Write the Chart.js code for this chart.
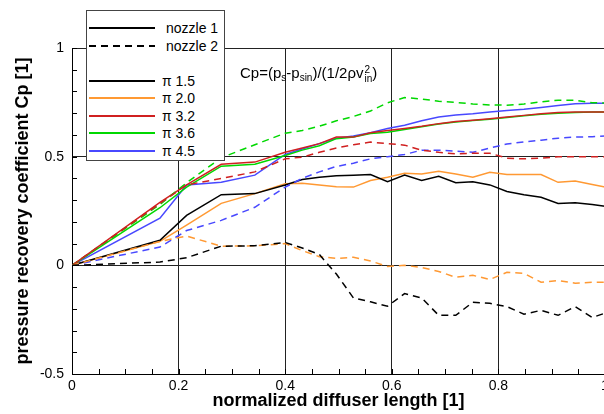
<!DOCTYPE html>
<html>
<head>
<meta charset="utf-8">
<script src="https://cdn.jsdelivr.net/npm/chart.js@4"></script>
<style>
  html, body { margin:0; padding:0; overflow:hidden; background:#fff; width:604px; height:414px; }
  #wrap { position:absolute; left:0; top:0; width:620px; height:414px; }
  #legend { position:absolute; left:86px; top:10px; width:137px; height:149px; border:1px solid #444; background:#fff;
            font-family: Arial, "Liberation Sans", sans-serif; font-size:14px; color:#000; }
  .row { position:absolute; left:0; width:137px; height:18px; }
  .row svg { position:absolute; left:2px; top:0; }
  .row span { position:absolute; top:0; line-height:18px; white-space:nowrap; }
  #formula { position:absolute; left:240px; top:64px; font-family: Arial, "Liberation Sans", sans-serif; font-size:15px; color:#000; white-space:nowrap; }
  #formula sub { font-size:10px; vertical-align:-3px; }
  .stack { display:inline-block; vertical-align:middle; line-height:9px; font-size:10px; margin-left:1px; }
  .stack span { display:block; }
</style>
</head>
<body>
<div id="wrap"><canvas id="c"></canvas></div>
<div id="legend"></div>
<div id="formula">Cp=(p<sub>s</sub>-p<sub>sin</sub>)/(1/2ρv<span class="stack"><span>2</span><span>in</span></span>)</div>
<script>
// ---- data ----
const xPos = [0, 0.165, 0.215, 0.28, 0.343, 0.40, 0.432, 0.464, 0.496, 0.528, 0.56, 0.592, 0.624, 0.656, 0.688, 0.72, 0.752, 0.784, 0.816, 0.848, 0.88, 0.912, 0.944, 0.976, 1.0];

// nozzle 1 (solid)
const pi15_n1 = [0, 0.115, 0.23, 0.325, 0.33, 0.37, 0.395, 0.405, 0.412, 0.415, 0.418, 0.385, 0.415, 0.39, 0.41, 0.38, 0.385, 0.37, 0.34, 0.325, 0.313, 0.285, 0.288, 0.28, 0.272];
const pi20_n1 = [0, 0.11, 0.185, 0.285, 0.33, 0.375, 0.378, 0.37, 0.362, 0.36, 0.39, 0.405, 0.424, 0.42, 0.433, 0.42, 0.405, 0.428, 0.418, 0.418, 0.418, 0.382, 0.388, 0.372, 0.36];
const pi32_n1 = [0, 0.29, 0.37, 0.465, 0.475, 0.52, 0.54, 0.56, 0.59, 0.59, 0.61, 0.62, 0.63, 0.64, 0.652, 0.662, 0.668, 0.675, 0.683, 0.69, 0.698, 0.703, 0.705, 0.705, 0.706];
const pi36_n1 = [0, 0.265, 0.36, 0.456, 0.465, 0.505, 0.53, 0.55, 0.583, 0.59, 0.607, 0.612, 0.625, 0.638, 0.65, 0.66, 0.666, 0.672, 0.68, 0.688, 0.695, 0.7, 0.703, 0.705, 0.705];
const pi45_n1 = [0, 0.217, 0.37, 0.382, 0.415, 0.51, 0.535, 0.56, 0.585, 0.595, 0.61, 0.63, 0.645, 0.665, 0.683, 0.692, 0.697, 0.705, 0.712, 0.718, 0.726, 0.735, 0.744, 0.746, 0.746];

// nozzle 2 (dashed)
const pi15_n2 = [0, 0.015, 0.035, 0.088, 0.09, 0.105, 0.08, 0.05, -0.04, -0.15, -0.168, -0.188, -0.13, -0.15, -0.23, -0.23, -0.17, -0.175, -0.19, -0.225, -0.207, -0.23, -0.19, -0.24, -0.22];
const pi20_n2 = [0, 0.11, 0.135, 0.088, 0.09, 0.10, 0.068, 0.04, 0.032, 0.037, 0.02, -0.005, 0.0, -0.01, -0.028, -0.055, -0.046, -0.065, -0.032, -0.037, -0.078, -0.07, -0.082, -0.078, -0.078];
const pi32_n2 = [0, 0.285, 0.37, 0.40, 0.43, 0.49, 0.498, 0.52, 0.54, 0.555, 0.567, 0.56, 0.553, 0.53, 0.52, 0.513, 0.516, 0.516, 0.493, 0.49, 0.493, 0.50, 0.50, 0.50, 0.50];
const pi36_n2 = [0, 0.28, 0.38, 0.495, 0.555, 0.608, 0.62, 0.64, 0.665, 0.685, 0.71, 0.748, 0.772, 0.765, 0.755, 0.75, 0.742, 0.738, 0.737, 0.742, 0.752, 0.76, 0.76, 0.748, 0.747];
const pi45_n2 = [0, 0.084, 0.16, 0.207, 0.267, 0.36, 0.40, 0.43, 0.455, 0.47, 0.49, 0.50, 0.51, 0.53, 0.53, 0.525, 0.52, 0.54, 0.558, 0.568, 0.576, 0.585, 0.59, 0.592, 0.595];

const piLabels = ["π 1.5", "π 2.0", "π 3.2", "π 3.6", "π 4.5"];
const nozzleLabels = ["nozzle 1", "nozzle 2"];
const xTickLabels = ["0", "0.2", "0.4", "0.6", "0.8", "1"];
const yTickLabels = ["-0.5", "0", "0.5", "1"];

// ---- styles ----
const colors = ["#000000", "#FF9933", "#D02020", "#00D800", "#4848FF"];
const dash = [7, 5];

const n1 = [pi15_n1, pi20_n1, pi32_n1, pi36_n1, pi45_n1];
const n2 = [pi15_n2, pi20_n2, pi32_n2, pi36_n2, pi45_n2];
const toPts = ys => ys.map((y, i) => ({ x: xPos[i], y }));

const datasets = [];
n2.forEach((ys, i) => datasets.push({ label: piLabels[i] + " " + nozzleLabels[1], data: toPts(ys), borderColor: colors[i], borderWidth: 1.5, borderDash: dash, pointRadius: 0, tension: 0, fill: false }));
n1.forEach((ys, i) => datasets.push({ label: piLabels[i] + " " + nozzleLabels[0], data: toPts(ys), borderColor: colors[i], borderWidth: 1.5, pointRadius: 0, tension: 0, fill: false }));

const minorTicks = {
  id: 'minorTicks',
  afterDraw(chart) {
    const { ctx, scales: { x, y } } = chart;
    ctx.save();
    ctx.strokeStyle = '#000';
    ctx.lineWidth = 1;
    ctx.beginPath();
    for (let k = -5; k <= 10; k++) {
      const py = Math.round(y.getPixelForValue(k / 10)) + 0.5;
      ctx.moveTo(x.left, py); ctx.lineTo(x.left + 5, py);
    }
    for (let k = 0; k <= 20; k++) {
      const px = Math.round(x.getPixelForValue(k / 20)) + 0.5;
      ctx.moveTo(px, y.bottom); ctx.lineTo(px, y.bottom - 5);
    }
    ctx.stroke();
    ctx.restore();
  }
};

const font = { family: 'Arial, "Liberation Sans", sans-serif', size: 14 };
const titleFont = { family: 'Arial, "Liberation Sans", sans-serif', size: 18, weight: 'bold' };
new Chart(document.getElementById('c'), {
  type: 'line',
  data: { datasets },
  plugins: [minorTicks],
  options: {
    responsive: true, maintainAspectRatio: false, animation: false,
    layout: { padding: { left: 0, top: 48, right: 15, bottom: 0 } },
    plugins: { legend: { display: false }, tooltip: { enabled: false } },
    scales: {
      x: {
        type: 'linear', min: 0, max: 1,
        ticks: { stepSize: 0.2, color: '#000', font, padding: 4, maxRotation: 0,
                 callback: (v) => { const i = Math.round(v / 0.2); return xTickLabels[i]; } },
        grid: { color: '#222', lineWidth: 1, drawTicks: false },
        border: { color: '#000', width: 1 },
        title: { display: true, text: 'normalized diffuser length [1]', color: '#000',
                 font: titleFont, padding: { top: 0, bottom: 2 } },
        afterFit: s => { s.height = 40; }
      },
      y: {
        type: 'linear', min: -0.5, max: 1,
        ticks: { stepSize: 0.5, color: '#000', font, padding: 8,
                 callback: (v) => { const i = Math.round((v + 0.5) / 0.5); return yTickLabels[i]; } },
        grid: { color: '#222', lineWidth: 1, drawTicks: false },
        border: { color: '#000', width: 1 },
        title: { display: true, text: 'pressure recovery coefficient Cp [1]', color: '#000',
                 font: titleFont, padding: { top: 12, bottom: 0 } },
        afterFit: s => { s.width = 72; }
      }
    }
  }
});

// ---- legend (HTML) ----
const legend = document.getElementById('legend');
const rowsY = [8, 25.5, 60.5, 78, 95.5, 113, 130.5];
function addRow(top, color, dashed, text, textLeft) {
  const r = document.createElement('div');
  r.className = 'row'; r.style.top = top + 'px';
  const da = dashed ? ' stroke-dasharray="' + dash.join(' ') + '"' : '';
  r.innerHTML = '<svg width="70" height="18"><line x1="0" y1="9" x2="66" y2="9" stroke="' + color + '" stroke-width="1.8"' + da + '/></svg>' +
                '<span style="left:' + textLeft + 'px">' + text + '</span>';
  legend.appendChild(r);
}
addRow(rowsY[0], '#000', false, nozzleLabels[0], 79);
addRow(rowsY[1], '#000', true, nozzleLabels[1], 79);
piLabels.forEach((t, i) => addRow(rowsY[2 + i], colors[i], false, t, 75));
</script>
</body>
</html>
